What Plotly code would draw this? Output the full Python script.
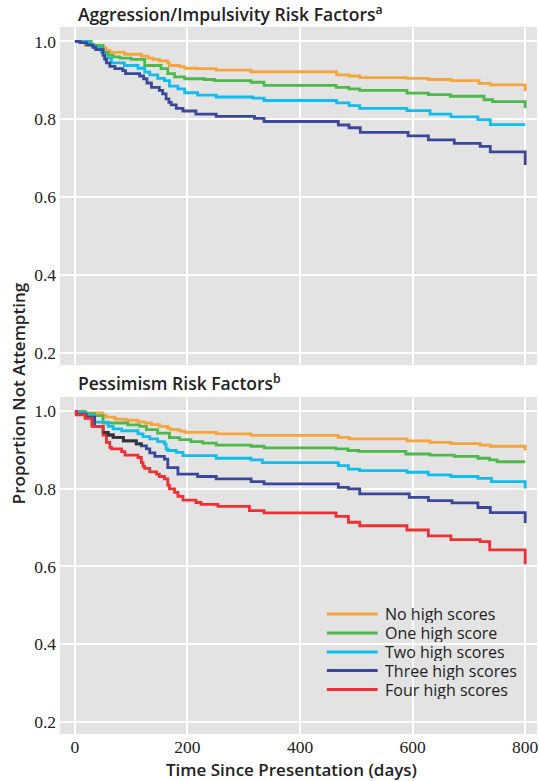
import plotly.graph_objects as go

# ---------------- data ----------------
group_names = ["No high scores", "One high score", "Two high scores",
               "Three high scores", "Four high scores"]

# Aggression/Impulsivity panel (step times in days, survival proportion)
ai_none_t = [0, 18, 50, 55, 62, 88, 118, 130, 139, 150, 165, 168, 186, 195, 215, 251, 313, 465, 487, 506, 590, 628, 668, 718, 738, 800]
ai_none_s = [1.0, 0.990, 0.983, 0.977, 0.972, 0.967, 0.962, 0.957, 0.954, 0.950, 0.945, 0.938, 0.935, 0.931, 0.930, 0.926, 0.922, 0.914, 0.911, 0.907, 0.905, 0.902, 0.899, 0.892, 0.888, 0.872]

ai_one_t = [0, 29, 50, 59, 68, 80, 100, 124, 153, 165, 177, 195, 230, 248, 313, 336, 464, 487, 506, 590, 628, 667, 727, 742, 800]
ai_one_s = [1.0, 0.990, 0.972, 0.964, 0.960, 0.957, 0.954, 0.938, 0.930, 0.917, 0.909, 0.904, 0.902, 0.899, 0.895, 0.887, 0.882, 0.878, 0.874, 0.867, 0.863, 0.859, 0.850, 0.845, 0.828]

ai_two_t = [0, 24, 35, 47, 53, 65, 88, 112, 124, 133, 147, 159, 168, 183, 195, 218, 251, 316, 336, 465, 487, 506, 590, 631, 668, 716, 738, 800]
ai_two_s = [1.0, 0.991, 0.983, 0.972, 0.957, 0.945, 0.938, 0.931, 0.921, 0.914, 0.905, 0.899, 0.885, 0.878, 0.868, 0.862, 0.857, 0.854, 0.848, 0.842, 0.835, 0.828, 0.822, 0.813, 0.806, 0.799, 0.786, 0.786]

ai_three_t = [0, 9, 21, 32, 37, 50, 53, 56, 62, 71, 85, 90, 115, 122, 128, 136, 150, 156, 162, 167, 171, 180, 192, 215, 251, 319, 336, 468, 487, 507, 592, 628, 674, 720, 738, 800]
ai_three_s = [1.0, 0.997, 0.991, 0.985, 0.979, 0.964, 0.954, 0.945, 0.936, 0.930, 0.925, 0.917, 0.911, 0.904, 0.893, 0.882, 0.874, 0.865, 0.852, 0.843, 0.837, 0.828, 0.821, 0.813, 0.807, 0.802, 0.794, 0.785, 0.778, 0.766, 0.757, 0.747, 0.738, 0.730, 0.716, 0.682]

# Pessimism panel
pe_none_t = [0, 6, 50, 56, 71, 91, 112, 124, 136, 150, 165, 171, 186, 195, 251, 313, 468, 487, 590, 631, 668, 720, 738, 800]
pe_none_s = [1.0, 0.996, 0.989, 0.985, 0.980, 0.977, 0.973, 0.970, 0.966, 0.961, 0.956, 0.953, 0.949, 0.946, 0.942, 0.938, 0.933, 0.929, 0.924, 0.920, 0.917, 0.913, 0.910, 0.899]

pe_one_t = [0, 18, 35, 50, 94, 115, 127, 147, 168, 186, 206, 227, 251, 313, 336, 464, 485, 504, 588, 631, 674, 716, 737, 750, 800]
pe_one_s = [1.0, 0.994, 0.989, 0.970, 0.965, 0.961, 0.953, 0.944, 0.932, 0.927, 0.922, 0.918, 0.913, 0.910, 0.906, 0.903, 0.899, 0.897, 0.890, 0.887, 0.884, 0.879, 0.875, 0.870, 0.870]

pe_two_t = [0, 5, 21, 35, 59, 68, 83, 112, 121, 133, 147, 159, 162, 165, 180, 192, 251, 313, 333, 468, 486, 506, 590, 628, 668, 716, 740, 800]
pe_two_s = [1.0, 0.996, 0.989, 0.972, 0.961, 0.955, 0.950, 0.942, 0.935, 0.929, 0.922, 0.916, 0.903, 0.899, 0.894, 0.886, 0.879, 0.875, 0.868, 0.860, 0.851, 0.847, 0.843, 0.836, 0.832, 0.827, 0.819, 0.801]

pe_three_t = [0, 3, 20, 35, 50, 59, 68, 86, 109, 118, 127, 133, 142, 159, 165, 183, 218, 251, 313, 336, 468, 486, 506, 594, 628, 670, 716, 738, 800]
pe_three_s = [1.0, 0.993, 0.985, 0.961, 0.946, 0.939, 0.933, 0.924, 0.916, 0.911, 0.903, 0.893, 0.884, 0.877, 0.855, 0.838, 0.832, 0.826, 0.819, 0.813, 0.804, 0.800, 0.787, 0.778, 0.770, 0.764, 0.752, 0.739, 0.712]

pe_four_t = [0, 2, 18, 30, 50, 56, 62, 65, 83, 89, 112, 118, 121, 124, 133, 145, 150, 159, 165, 168, 177, 183, 192, 215, 224, 254, 310, 336, 464, 486, 506, 590, 628, 668, 720, 737, 800]
pe_four_s = [1.0, 0.991, 0.982, 0.961, 0.939, 0.920, 0.907, 0.903, 0.896, 0.887, 0.881, 0.868, 0.858, 0.853, 0.844, 0.838, 0.832, 0.826, 0.810, 0.800, 0.791, 0.781, 0.771, 0.765, 0.760, 0.755, 0.744, 0.738, 0.729, 0.714, 0.705, 0.694, 0.679, 0.669, 0.664, 0.643, 0.606]

x_ticks = [0, 200, 400, 600, 800]
y_ticks = [0.2, 0.4, 0.6, 0.8, 1.0]
y_ticktext = ["0.2", "0.4", "0.6", "0.8", "1.0"]

colors = ["#F6A43C", "#4DB84B", "#10BDEC", "#3A489C", "#EE3035"]
overlap_color = "#333333"

# ---------------- figure ----------------
W, H = 539, 781
ml, mr, mt, mb = 60, 0, 27, 47
ph = H - mt - mb
pw = W - ml - mr

def py(pix):
    return (H - mb - pix) / ph

def px(pix):
    return (pix - ml) / pw

fig = go.Figure()

ai_series = [(ai_none_t, ai_none_s), (ai_one_t, ai_one_s), (ai_two_t, ai_two_s), (ai_three_t, ai_three_s)]
pe_series = [(pe_none_t, pe_none_s), (pe_one_t, pe_one_s), (pe_two_t, pe_two_s),
             (pe_three_t, pe_three_s), (pe_four_t, pe_four_s)]

LW = 2.8
for i, (t, s) in enumerate(ai_series):
    fig.add_trace(go.Scatter(x=t, y=s, mode="lines", line=dict(color=colors[i], width=LW, shape="hv"),
                             name=group_names[i], showlegend=False, xaxis="x", yaxis="y"))

for i, (t, s) in enumerate(pe_series):
    fig.add_trace(go.Scatter(x=t, y=s, mode="lines", line=dict(color=colors[i], width=LW, shape="hv"),
                             name=group_names[i], showlegend=False, xaxis="x2", yaxis="y2"))

# dark overlapping segment of the three-high-scores curve
seg = [k for k, tt in enumerate(pe_three_t) if 50 <= tt <= 118]
fig.add_trace(go.Scatter(x=[pe_three_t[k] for k in seg], y=[pe_three_s[k] for k in seg], mode="lines",
                         line=dict(color=overlap_color, width=LW, shape="hv"),
                         showlegend=False, xaxis="x2", yaxis="y2"))

bg = "#E3E3E3"
tickfont = dict(family="Liberation Serif", size=17.5, color="#222")
xr = [-26.5, 821]
yr = [0.168, 1.037]

common_x = dict(range=xr, tickvals=x_ticks, showgrid=True, gridcolor="white", gridwidth=2,
                zeroline=False, showline=False, ticks="", tickfont=tickfont, ticklabeloverflow="allow")
common_y = dict(range=yr, tickvals=y_ticks, ticktext=y_ticktext, tickfont=tickfont, showgrid=True,
                gridcolor="white", gridwidth=2, zeroline=False, ticks="", ticklabelstandoff=3)

fig.update_layout(
    width=W, height=H,
    margin=dict(l=ml, r=mr, t=mt, b=mb),
    paper_bgcolor="white", plot_bgcolor=bg,
    xaxis=dict(domain=[0, 1], anchor="y", showticklabels=False, **common_x),
    yaxis=dict(domain=[py(365), 1], anchor="x", **common_y),
    xaxis2=dict(domain=[0, 1], anchor="y2", **common_x),
    yaxis2=dict(domain=[0, py(397)], anchor="x2", **common_y),
    showlegend=False,
)

# legend (drawn in the bottom panel)
legend_rows = [614, 633, 652, 670.5, 689.5]
for i, name in enumerate(group_names):
    yy = py(legend_rows[i])
    fig.add_shape(type="line", xref="paper", yref="paper", x0=px(328), x1=px(379), y0=yy, y1=yy,
                  line=dict(color=colors[i], width=3.2))
    fig.add_annotation(text=name, xref="paper", yref="paper", x=px(384), y=yy, xanchor="left",
                       yanchor="middle", showarrow=False, height=18, valign="middle",
                       font=dict(family="Open Sans", size=16, color="#222"))

title_font = dict(family="Open Sans", size=17.5, color="#222", weight=600)
fig.add_annotation(text="Aggression/Impulsivity Risk Factors<sup>a</sup>", xref="paper", yref="paper",
                   x=px(76), y=py(14), xanchor="left", yanchor="middle", showarrow=False,
                   font=title_font)
fig.add_annotation(text="Pessimism Risk Factors<sup>b</sup>", xref="paper", yref="paper",
                   x=px(76), y=py(382), xanchor="left", yanchor="middle", showarrow=False,
                   font=title_font)
axis_font = dict(family="Open Sans", size=17, color="#222", weight=600)
fig.add_annotation(text="Time Since Presentation (days)", xref="paper", yref="paper",
                   x=px(292), y=py(769), xanchor="center", yanchor="middle", showarrow=False,
                   font=axis_font)
fig.add_annotation(text="Proportion Not Attempting", xref="paper", yref="paper",
                   x=px(18), y=py(393), xanchor="center", yanchor="middle", showarrow=False,
                   textangle=-90, font=axis_font)

fig.write_html("out.html")
